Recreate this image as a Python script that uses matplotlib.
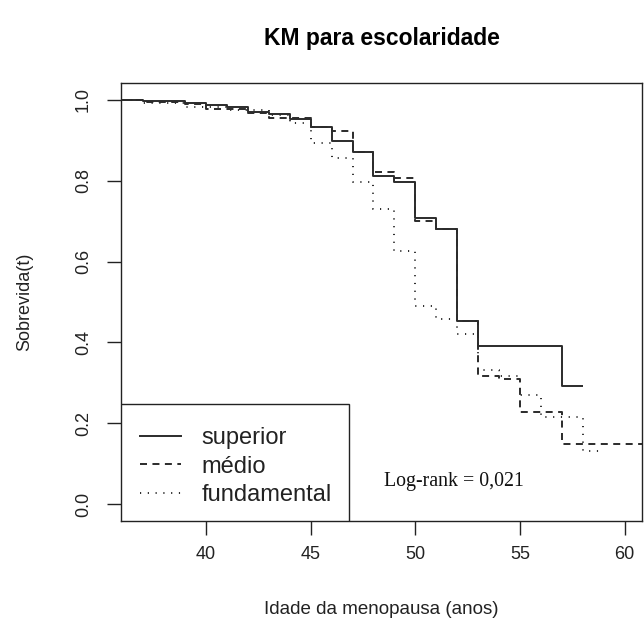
import matplotlib.pyplot as plt
from matplotlib.lines import Line2D
from matplotlib.patches import Rectangle

plt.rcParams['font.family'] = ['Liberation Sans', 'DejaVu Sans']

# Kaplan-Meier estimates, by schooling level
superior_t = [0, 37, 39, 40, 41, 42, 43, 44, 45, 46, 47, 48, 49, 50, 51, 52, 53, 57, 58]
superior_s = [1.0, 0.997, 0.992, 0.987, 0.983, 0.970, 0.965, 0.954, 0.934, 0.899,
              0.872, 0.812, 0.798, 0.709, 0.681, 0.454, 0.391, 0.291, 0.291]

medio_t = [0, 37, 39, 40, 42, 43, 45, 46, 47, 48, 49, 50, 51, 52, 53, 54, 55, 57, 62]
medio_s = [1.0, 0.995, 0.99, 0.978, 0.967, 0.955, 0.934, 0.923, 0.872, 0.822,
           0.807, 0.701, 0.681, 0.454, 0.316, 0.310, 0.227, 0.148, 0.148]

fund_t = [0, 37, 39, 41, 43, 44, 45, 46, 47, 48, 49, 50, 51, 52, 53, 54, 55, 56, 58, 58.9]
fund_s = [1.0, 0.993, 0.983, 0.975, 0.963, 0.943, 0.894, 0.857, 0.798, 0.731,
          0.627, 0.489, 0.457, 0.422, 0.331, 0.316, 0.269, 0.215, 0.131, 0.131]

group_labels = ['superior', 'médio', 'fundamental']
x_ticks = [40, 45, 50, 55, 60]
y_ticks = [0.0, 0.2, 0.4, 0.6, 0.8, 1.0]

line_col = '#2b2b2b'
dash_style = (0, (3.6, 2.8))
dot_style = (0, (0.6, 3.4))

fig = plt.figure(figsize=(6.44, 6.39), dpi=100)
ax = fig.add_axes([121/644, 1 - 521/639, (642 - 121)/644, (521 - 83)/639])

ax.step(superior_t, superior_s, where='post', color=line_col, lw=1.4, solid_capstyle='butt')
ax.step(medio_t, medio_s, where='post', color=line_col, lw=1.4, linestyle=dash_style,
        dash_capstyle='butt')
ax.step(fund_t, fund_s, where='post', color=line_col, lw=1.4, linestyle=dot_style,
        dash_capstyle='butt')

ax.set_xlim(35.94, 60.83)
ax.set_ylim(-0.042, 1.042)
ax.set_xticks(x_ticks)
ax.set_xticklabels([str(v) for v in x_ticks])
ax.set_yticks(y_ticks)
ax.set_yticklabels([f"{v:.1f}" for v in y_ticks], rotation=90, va='center')
ax.tick_params(length=10, width=1, direction='out', labelsize=13, colors='#222222')
ax.tick_params(axis='x', pad=8)
ax.tick_params(axis='y', pad=11)
for sp in ax.spines.values():
    sp.set_color('#222222')
    sp.set_linewidth(1)

ax.set_title("KM para escolaridade", fontsize=16.5, fontweight='bold', pad=27)
ax.set_xlabel("Idade da menopausa (anos)", fontsize=13.5, labelpad=27, color='#222222')
ax.set_ylabel("Sobrevida(t)", fontsize=13, labelpad=30, color='#222222')

handles = [
    Line2D([], [], color=line_col, lw=1.4),
    Line2D([], [], color=line_col, lw=1.4, linestyle=dash_style),
    Line2D([], [], color=line_col, lw=1.4, linestyle=dot_style),
]
# legend box drawn separately so it can be as wide as in the original
box = Rectangle((0, 0), (349 - 121) / 521, (521 - 404) / 438, transform=ax.transAxes,
                facecolor='white', edgecolor='#222222', lw=1, zorder=4)
ax.add_patch(box)
leg = ax.legend(handles, group_labels, loc='lower left', bbox_to_anchor=(0.016, 0.01),
                borderaxespad=0, frameon=False, fontsize=17, handlelength=1.75,
                handletextpad=0.85, labelspacing=0.27, borderpad=0.45)
leg.set_zorder(5)
for t in leg.get_texts():
    t.set_color('#222222')

ax.text(48.5, 0.044, "Log-rank = 0,021", family=['Liberation Serif', 'DejaVu Serif'],
        fontsize=14.3, ha='left', va='baseline', color='#111111')

plt.savefig("out.png", dpi=100)
